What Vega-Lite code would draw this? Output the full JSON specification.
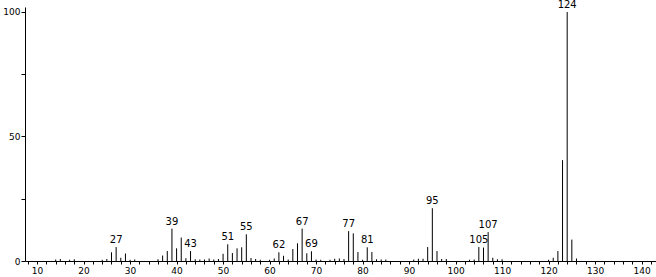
{
  "$schema": "https://vega.github.io/schema/vega-lite/v6.json",
  "width": 631,
  "height": 254,
  "autosize": {"type": "none"},
  "padding": {"left": 25, "top": 7, "right": 0, "bottom": 16},
  "background": "white",
  "config": {"view": {"stroke": null}, "font": "DejaVu Sans"},
  "data": {"values": [
    {"mz": 14, "i": 0.6, "lab": ""},
    {"mz": 15, "i": 0.8, "lab": ""},
    {"mz": 17, "i": 0.5, "lab": ""},
    {"mz": 18, "i": 0.7, "lab": ""},
    {"mz": 24, "i": 0.5, "lab": ""},
    {"mz": 25, "i": 0.8, "lab": ""},
    {"mz": 26, "i": 3.5, "lab": ""},
    {"mz": 27, "i": 5.6, "lab": "27"},
    {"mz": 28, "i": 1.3, "lab": ""},
    {"mz": 29, "i": 3.0, "lab": ""},
    {"mz": 30, "i": 0.5, "lab": ""},
    {"mz": 31, "i": 0.6, "lab": ""},
    {"mz": 36, "i": 0.7, "lab": ""},
    {"mz": 37, "i": 2.2, "lab": ""},
    {"mz": 38, "i": 4.0, "lab": ""},
    {"mz": 39, "i": 13.0, "lab": "39"},
    {"mz": 40, "i": 5.1, "lab": ""},
    {"mz": 41, "i": 9.4, "lab": ""},
    {"mz": 42, "i": 1.1, "lab": ""},
    {"mz": 43, "i": 4.0, "lab": "43"},
    {"mz": 44, "i": 0.7, "lab": ""},
    {"mz": 45, "i": 0.6, "lab": ""},
    {"mz": 46, "i": 0.6, "lab": ""},
    {"mz": 47, "i": 1.0, "lab": ""},
    {"mz": 48, "i": 0.6, "lab": ""},
    {"mz": 49, "i": 0.8, "lab": ""},
    {"mz": 50, "i": 2.9, "lab": ""},
    {"mz": 51, "i": 6.7, "lab": "51"},
    {"mz": 52, "i": 3.2, "lab": ""},
    {"mz": 53, "i": 5.1, "lab": ""},
    {"mz": 54, "i": 5.5, "lab": ""},
    {"mz": 55, "i": 10.7, "lab": "55"},
    {"mz": 56, "i": 1.2, "lab": ""},
    {"mz": 57, "i": 0.8, "lab": ""},
    {"mz": 58, "i": 0.5, "lab": ""},
    {"mz": 60, "i": 0.5, "lab": ""},
    {"mz": 61, "i": 1.0, "lab": ""},
    {"mz": 62, "i": 3.5, "lab": "62"},
    {"mz": 63, "i": 2.1, "lab": ""},
    {"mz": 64, "i": 0.6, "lab": ""},
    {"mz": 65, "i": 4.8, "lab": ""},
    {"mz": 66, "i": 7.1, "lab": ""},
    {"mz": 67, "i": 13.0, "lab": "67"},
    {"mz": 68, "i": 3.1, "lab": ""},
    {"mz": 69, "i": 3.9, "lab": "69"},
    {"mz": 70, "i": 0.6, "lab": ""},
    {"mz": 71, "i": 0.5, "lab": ""},
    {"mz": 73, "i": 0.5, "lab": ""},
    {"mz": 74, "i": 0.9, "lab": ""},
    {"mz": 75, "i": 1.0, "lab": ""},
    {"mz": 76, "i": 0.8, "lab": ""},
    {"mz": 77, "i": 12.0, "lab": "77"},
    {"mz": 78, "i": 11.1, "lab": ""},
    {"mz": 79, "i": 3.6, "lab": ""},
    {"mz": 80, "i": 0.5, "lab": ""},
    {"mz": 81, "i": 5.5, "lab": "81"},
    {"mz": 82, "i": 3.6, "lab": ""},
    {"mz": 83, "i": 0.7, "lab": ""},
    {"mz": 84, "i": 0.6, "lab": ""},
    {"mz": 85, "i": 0.6, "lab": ""},
    {"mz": 91, "i": 0.6, "lab": ""},
    {"mz": 92, "i": 0.9, "lab": ""},
    {"mz": 93, "i": 0.9, "lab": ""},
    {"mz": 94, "i": 5.6, "lab": ""},
    {"mz": 95, "i": 21.2, "lab": "95"},
    {"mz": 96, "i": 4.0, "lab": ""},
    {"mz": 97, "i": 0.8, "lab": ""},
    {"mz": 98, "i": 0.8, "lab": ""},
    {"mz": 103, "i": 0.5, "lab": ""},
    {"mz": 104, "i": 0.6, "lab": ""},
    {"mz": 105, "i": 5.6, "lab": "105"},
    {"mz": 106, "i": 5.4, "lab": ""},
    {"mz": 107, "i": 11.6, "lab": "107"},
    {"mz": 108, "i": 1.3, "lab": ""},
    {"mz": 109, "i": 0.7, "lab": ""},
    {"mz": 110, "i": 0.7, "lab": ""},
    {"mz": 120, "i": 0.5, "lab": ""},
    {"mz": 121, "i": 1.3, "lab": ""},
    {"mz": 122, "i": 4.0, "lab": ""},
    {"mz": 123, "i": 40.5, "lab": ""},
    {"mz": 124, "i": 100, "lab": "124"},
    {"mz": 125, "i": 8.6, "lab": ""},
    {"mz": 126, "i": 1.0, "lab": ""}
  ]},
  "encoding": {
    "x": {
      "field": "mz", "type": "quantitative",
      "scale": {"domain": [7.4, 143.1], "nice": false, "zero": false},
      "axis": {
        "title": null,
        "values": [8,10,12,14,16,18,20,22,24,26,28,30,32,34,36,38,40,42,44,46,48,50,52,54,56,58,60,62,64,66,68,70,72,74,76,78,80,82,84,86,88,90,92,94,96,98,100,102,104,106,108,110,112,114,116,118,120,122,124,126,128,130,132,134,136,138,140,142],
        "labelExpr": "datum.value % 10 === 0 ? datum.label : ''",
        "grid": false,
        "domainColor": "black",
        "tickColor": "black",
        "tickSize": 3,
        "labelColor": "black",
        "labelFontSize": 9,
        "labelPadding": 2,
        "labelFlush": false,
        "labelOverlap": false
      }
    },
    "y": {
      "field": "i", "type": "quantitative",
      "scale": {"domain": [0, 102], "nice": false},
      "axis": {
        "title": null,
        "values": [0, 25, 50, 75, 100],
        "labelExpr": "datum.value % 50 === 0 ? datum.label : ''",
        "grid": false,
        "domainColor": "black",
        "tickColor": "black",
        "tickSize": 4,
        "labelColor": "black",
        "labelFontSize": 9,
        "labelPadding": 1,
        "labelFlush": false
      }
    }
  },
  "layer": [
    {
      "mark": {"type": "rule", "color": "black", "strokeWidth": 1},
      "encoding": {"y2": {"datum": 0}}
    },
    {
      "mark": {"type": "text", "baseline": "bottom", "dy": -2, "fontSize": 10, "color": "black", "font": "DejaVu Sans"},
      "encoding": {"text": {"field": "lab"}}
    }
  ]
}
